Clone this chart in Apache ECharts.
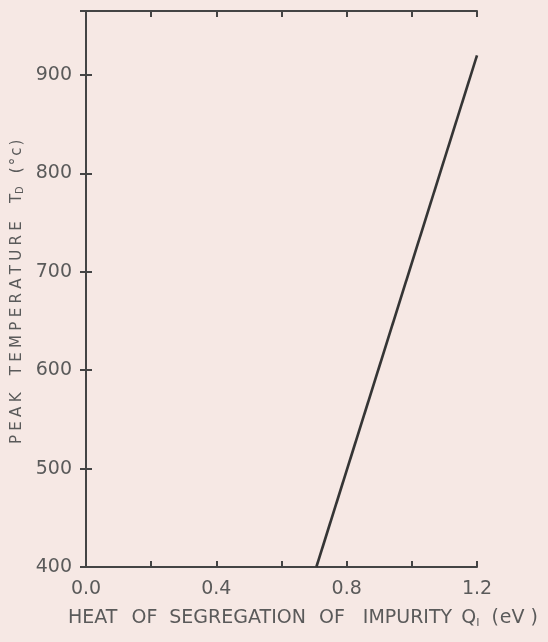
<!DOCTYPE html>
<html>
<head>
<meta charset="utf-8">
<script src="https://cdn.jsdelivr.net/npm/echarts@6/dist/echarts.min.js"></script>
<style>
  html, body { margin: 0; padding: 0; background: #f6e8e4; }
  #chart { width: 548px; height: 642px; }
</style>
</head>
<body>
<div id="chart"></div>
<script>
// Heat of segregation (eV) vs. peak temperature (°C)
const heatOfSegregation = [0.707, 1.2];
const peakTemperature = [400, 920];
const xTickLabels = ['0.0', '0.4', '0.8', '1.2'];
const yTickLabels = ['400', '500', '600', '700', '800', '900'];

const ink = '#444';
const textInk = '#5a5a5a';
const font = '"DejaVu Sans"';

const chart = echarts.init(document.getElementById('chart'));

const linePoints = heatOfSegregation.map((q, i) => [q, peakTemperature[i]]);

function xLabel(v) {
  const s = v.toFixed(1);
  return xTickLabels.includes(s) ? s : '';
}
function yLabel(v) {
  const s = String(Math.round(v));
  return yTickLabels.includes(s) ? s : '';
}

// Build a rich-text string from pieces: [text, fontSize, spaceAfter, tracking, dropBy]
function richTitle(pieces) {
  const rich = {};
  let text = '';
  pieces.forEach((p, i) => {
    const [str, size, after, track, drop] = p;
    const chars = track ? str.split('') : [str];
    chars.forEach((ch, j) => {
      const name = 't' + i + '_' + j;
      const last = j === chars.length - 1;
      rich[name] = {
        fill: textInk,
        font: size + 'px ' + font,
        padding: [drop || 0, (last ? after : 0) + (track || 0), 0, 0]
      };
      text += '{' + name + '|' + ch + '}';
    });
  });
  return { text, rich };
}

const xTitle = richTitle([
  ['HEAT', 19, 14],
  ['OF', 19, 12],
  ['SEGREGATION', 19, 13],
  ['OF', 19, 18],
  ['IMPURITY', 19, 9],
  ['Q', 19, 0],
  ['I', 11, 12, 0, 9],
  ['(', 19, 1],
  ['eV', 19, 6],
  [')', 19, 0]
]);

const yTitle = richTitle([
  ['PEAK', 15, 13, 4.3],
  ['TEMPERATURE', 15, 14, 4.3],
  ['T', 15, 0],
  ['D', 10, 13, 0, 6],
  ['(°c)', 15, 0, 2]
]);

const axisLine = { show: true, lineStyle: { color: ink, width: 2 } };
const axisTick = { show: true, inside: true, length: 6, lineStyle: { color: ink, width: 2 } };
const tickFont = { color: textInk, fontFamily: font, fontSize: 19 };

chart.setOption({
  backgroundColor: '#f6e8e4',
  animation: false,
  grid: { left: 86, right: 71, top: 11, bottom: 75 },
  xAxis: [
    {
      type: 'value', min: 0, max: 1.2, interval: 0.2, position: 'bottom',
      axisLine, axisTick, splitLine: { show: false },
      axisLabel: Object.assign({ formatter: xLabel, margin: 13 }, tickFont)
    },
    {
      type: 'value', min: 0, max: 1.2, interval: 0.2, position: 'top',
      axisLine, axisTick, splitLine: { show: false }, axisLabel: { show: false }
    }
  ],
  yAxis: [
    {
      type: 'value', min: 400, max: 965, interval: 100, position: 'left',
      axisLine, axisTick, splitLine: { show: false },
      axisLabel: Object.assign({ formatter: yLabel, margin: 14, showMaxLabel: false }, tickFont)
    },
    {
      type: 'value', min: 400, max: 965, interval: 100, position: 'right',
      axisLine, axisTick, splitLine: { show: false }, axisLabel: { show: false }
    }
  ],
  series: [
    {
      type: 'line',
      data: linePoints,
      symbol: 'none',
      lineStyle: { color: '#353535', width: 2.6 }
    }
  ],
  graphic: [
    {
      type: 'text',
      left: 68, top: 609,
      style: { text: xTitle.text, rich: xTitle.rich, fill: textInk, font: '19px ' + font }
    },
    {
      type: 'text',
      x: 9, y: 444,
      rotation: Math.PI / 2,
      style: { text: yTitle.text, rich: yTitle.rich, fill: textInk, font: '15px ' + font }
    }
  ]
});
</script>
</body>
</html>
